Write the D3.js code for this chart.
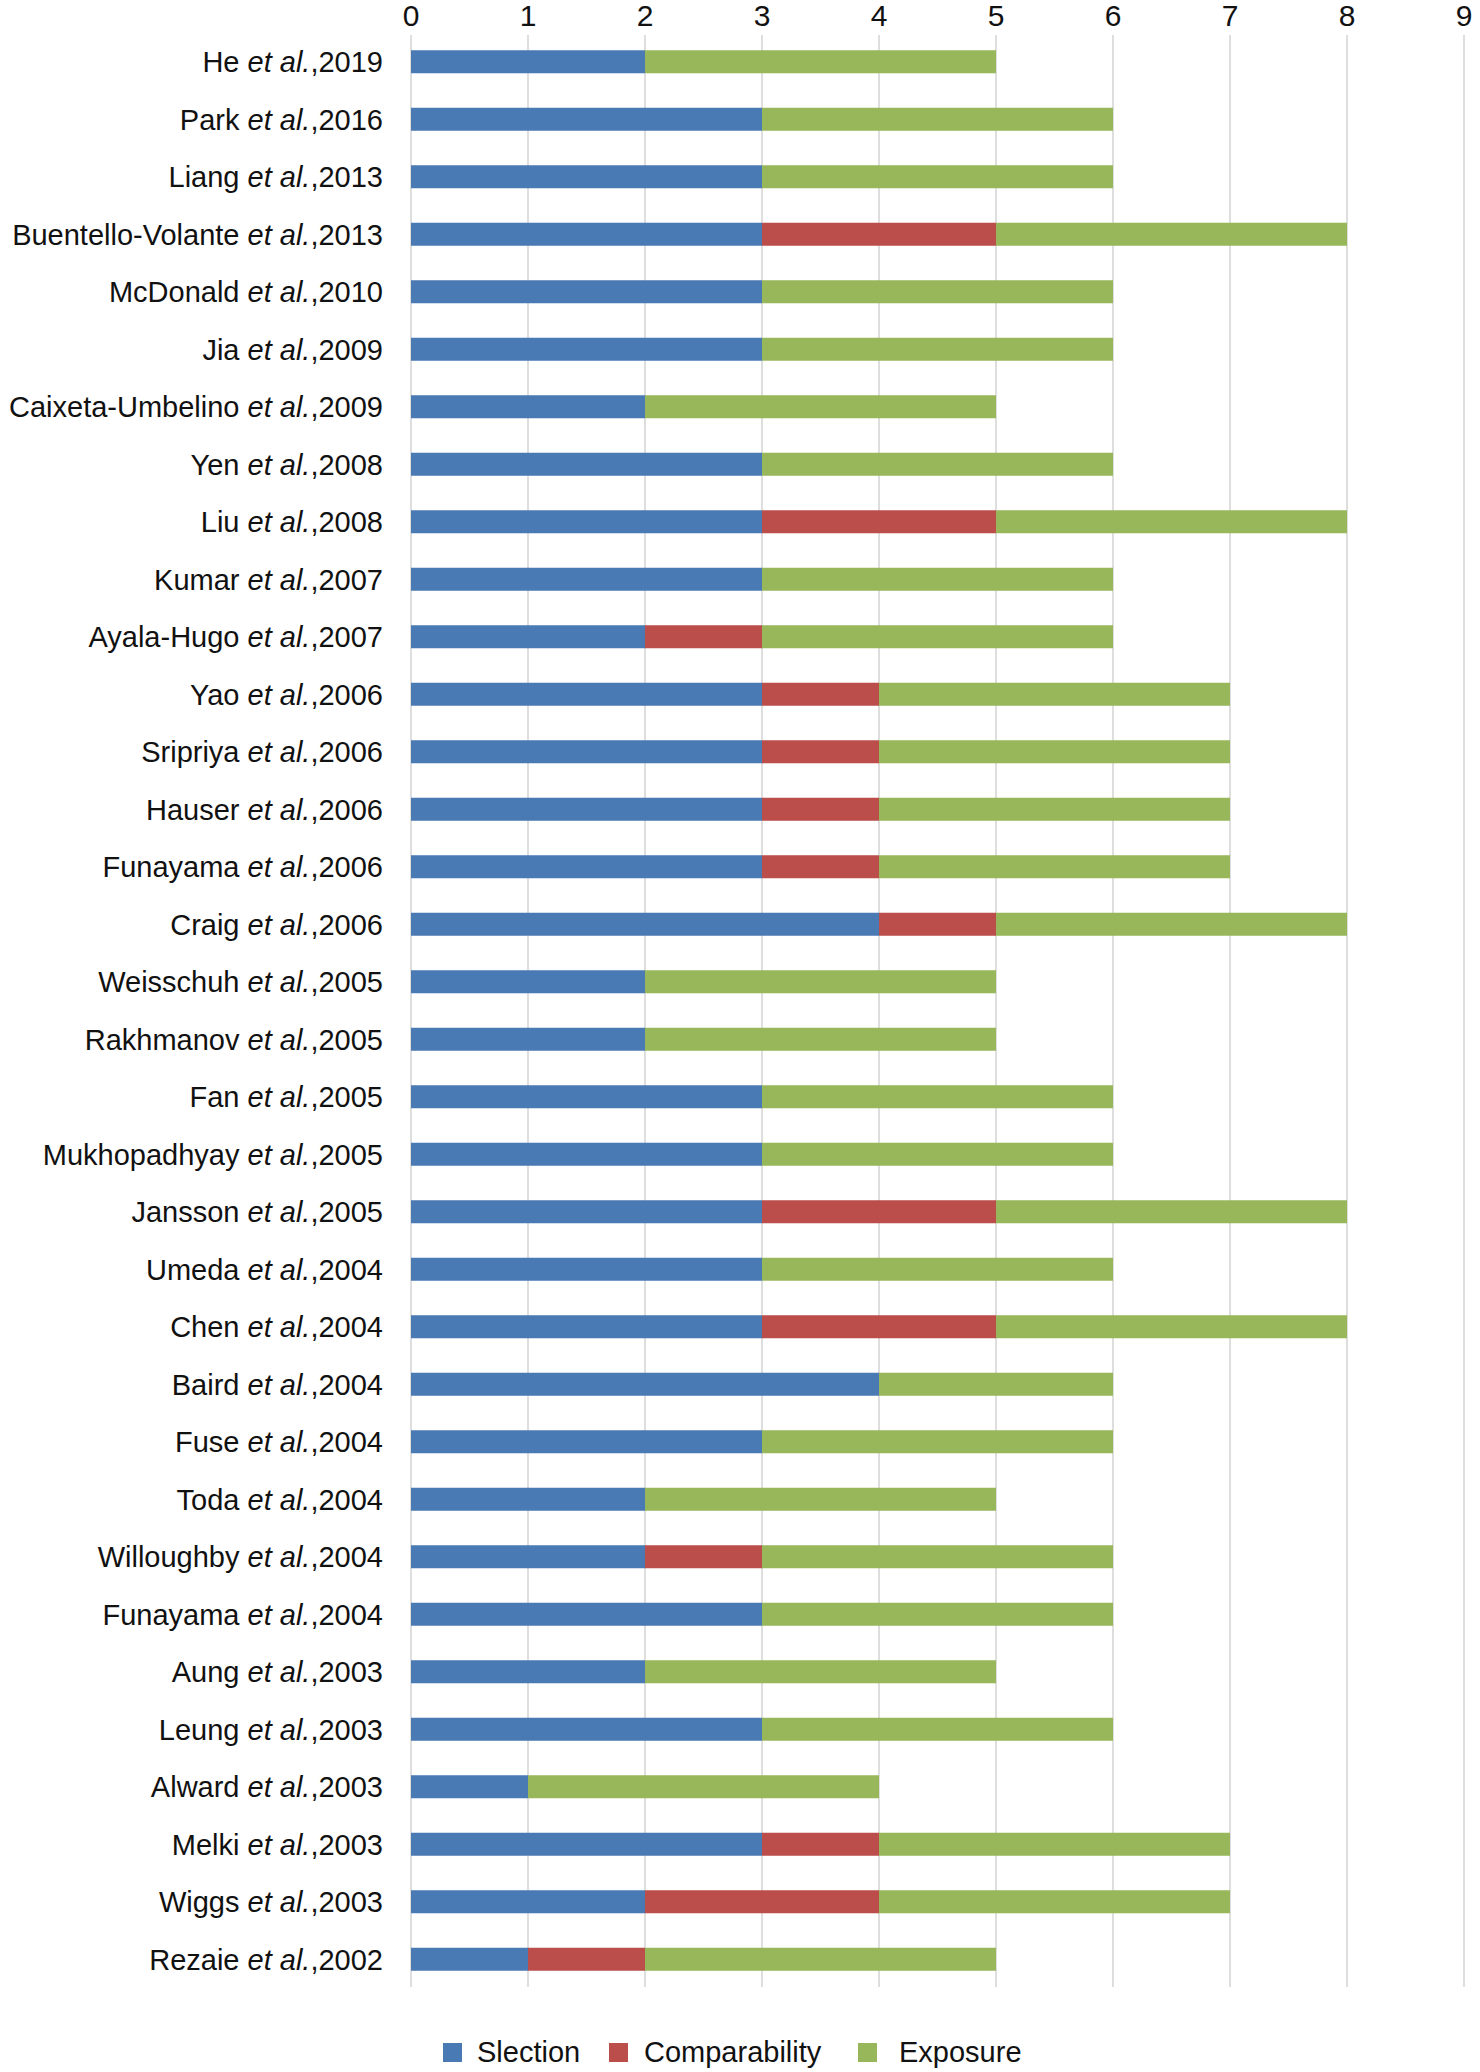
<!DOCTYPE html>
<html>
<head>
<meta charset="utf-8">
<script src="https://cdnjs.cloudflare.com/ajax/libs/d3/7.8.5/d3.min.js"></script>
<style>
  html, body { margin: 0; padding: 0; background: #fff; }
  svg { display: block; }
  text { font-family: "Liberation Sans", Arial, Helvetica, sans-serif; fill: #111; }
</style>
</head>
<body>
<svg id="chart" width="1480" height="2072"></svg>
<script>
const authors = ["He","Park","Liang","Buentello-Volante","McDonald","Jia","Caixeta-Umbelino","Yen","Liu","Kumar","Ayala-Hugo","Yao","Sripriya","Hauser","Funayama","Craig","Weisschuh","Rakhmanov","Fan","Mukhopadhyay","Jansson","Umeda","Chen","Baird","Fuse","Toda","Willoughby","Funayama","Aung","Leung","Alward","Melki","Wiggs","Rezaie"];
const years = [2019,2016,2013,2013,2010,2009,2009,2008,2008,2007,2007,2006,2006,2006,2006,2006,2005,2005,2005,2005,2005,2004,2004,2004,2004,2004,2004,2004,2003,2003,2003,2003,2003,2002];
const selection =     [2,3,3,3,3,3,2,3,3,3,2,3,3,3,3,4,2,2,3,3,3,3,3,4,3,2,2,3,2,3,1,3,2,1];
const comparability = [0,0,0,2,0,0,0,0,2,0,1,1,1,1,1,1,0,0,0,0,2,0,2,0,0,0,1,0,0,0,0,1,2,1];
const exposure =      [3,3,3,3,3,3,3,3,3,3,3,3,3,3,3,3,3,3,3,3,3,3,3,2,3,3,3,3,3,3,3,3,3,3];
const seriesNames = ["Slection","Comparability","Exposure"];
const colors = ["#4a7ab3","#bb4d4a","#98b65a"];
const xTicks = [0,1,2,3,4,5,6,7,8,9];

const svg = d3.select("#chart");
const ids = authors.map((a,i)=>i);
const x = d3.scaleLinear().domain([0,9]).range([411,1464]);
const y = d3.scaleBand().domain(ids).range([33,1988]).paddingInner(0.6).paddingOuter(0.3);

// gridlines
svg.append("g").selectAll("line").data(xTicks).join("line")
  .attr("x1", d=>x(d)).attr("x2", d=>x(d))
  .attr("y1", 35).attr("y2", 1987)
  .attr("stroke", "#d3d3d3").attr("stroke-width", 1.5);

// top tick labels
svg.append("g").selectAll("text").data(xTicks).join("text")
  .attr("x", d=>x(d)).attr("y", 26)
  .attr("text-anchor","middle")
  .style("font-family", "'Liberation Sans Narrow', 'Liberation Sans', Arial, sans-serif")
  .style("font-size","30px")
  .text(d=>d);

// stacked bars
const rows = ids.map(i => ({i, vals:[selection[i], comparability[i], exposure[i]]}));
const stack = d3.stack().keys([0,1,2]).value((d,k)=>d.vals[k]);
const stacked = stack(rows);
svg.append("g").selectAll("g").data(stacked).join("g")
  .attr("fill", (d,k)=>colors[k])
  .selectAll("rect").data(d=>d).join("rect")
  .attr("x", d=>x(d[0]))
  .attr("width", d=>Math.max(0, x(d[1])-x(d[0])))
  .attr("y", d=>y(d.data.i))
  .attr("height", y.bandwidth());

// category labels
const lab = svg.append("g").selectAll("text").data(ids).join("text")
  .attr("x", 383)
  .attr("y", d=>y(d)+y.bandwidth()/2)
  .attr("dy","0.36em")
  .attr("text-anchor","end")
  .style("font-size","29px");
lab.append("tspan").text(d=>authors[d]+" ");
lab.append("tspan").style("font-style","italic").text("et al.");
lab.append("tspan").text(d=>","+years[d]);

// legend
const legX = [443, 609, 858];
const lg = svg.append("g").selectAll("g").data(seriesNames).join("g")
  .attr("transform",(d,k)=>`translate(${legX[k]},2052)`);
lg.append("rect").attr("x",0).attr("y",-9).attr("width",19).attr("height",19)
  .attr("fill",(d,k)=>colors[k]);
lg.append("text").attr("x",(d,k)=>[34,35,41][k]).attr("y",0).attr("dy","0.36em")
  .style("font-size","29px").text(d=>d);
</script>
</body>
</html>
